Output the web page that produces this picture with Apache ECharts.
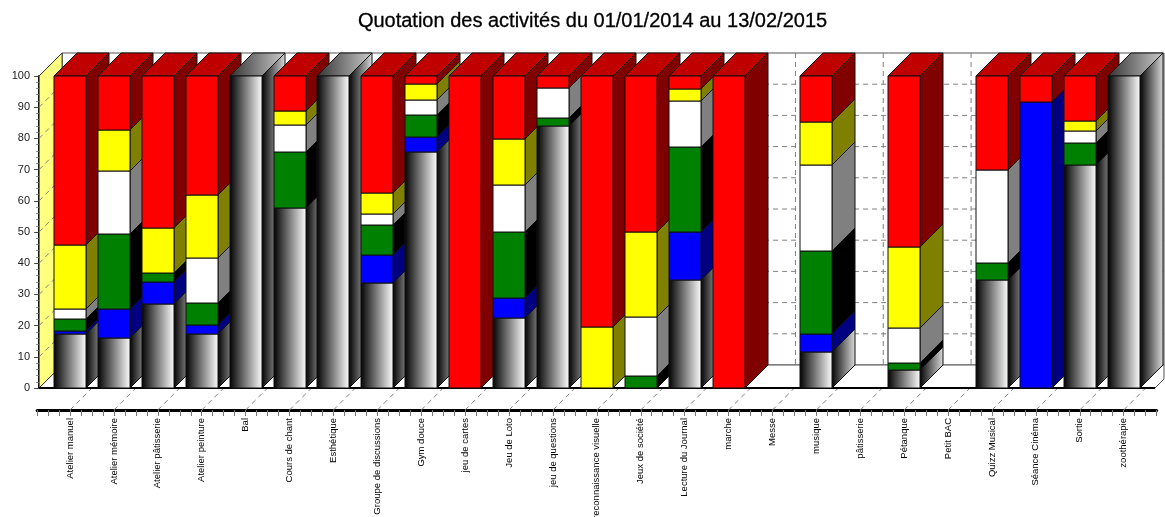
<!DOCTYPE html>
<html><head><meta charset="utf-8">
<style>html,body{margin:0;padding:0;background:#fff}#c{width:1165px;height:517px}</style>
<script src="https://cdn.jsdelivr.net/npm/echarts@6/dist/echarts.min.js"></script></head>
<body><div id="c"></div>
<script>
const titleText = 'Quotation des activités du 01/01/2014 au 13/02/2015';
const categories = ['Atelier manuel','Atelier mémoire','Atelier pâtisserie','Atelier peinture','Bal','Cours de chant','Esthétique','Groupe de discussions','Gym douce','jeu de cartes','Jeu de Loto','jeu de questions','reconnaissance visuelle','Jeux de société','Lecture du Journal','marche','Messe','musique','pâtisserie','Pétanque','Petit BAC','Quizz Musical','Séance Cinéma','Sortie','zoothérapie'];
const yTicks = [0,10,20,30,40,50,60,70,80,90,100];
// stack, bottom to top
const grisValues  = [17.3,16,26.9,17.3,100,57.7,100,33.7,75.6,0,22.4,84,0,0,34.6,0,0,11.5,0,5.8,0,34.6,0,71.5,100];
const bleuValues  = [1,9.3,7.1,2.9,0,0,0,8.9,4.8,0,6.4,0,0,0,15.4,0,0,5.8,0,0,0,0,91.7,0,0];
const vertValues  = [3.7,24.1,2.9,7,0,17.9,0,9.6,7.1,0,21.2,2.5,0,3.8,27.2,0,0,26.7,0,2.2,0,5.4,0,7,0];
const blancValues = [3.3,20.1,0,14.5,0,8.7,0,3.6,4.8,0,15,9.5,0,19,14.8,0,0,27.5,0,11.2,0,29.9,0,3.9,0];
const jauneValues = [20.5,13.2,14.4,20.2,0,4.5,0,6.7,5.1,0,14.8,0,19.6,27.2,3.8,0,0,13.8,0,26,0,0,0,3.2,0];
const rougeValues = [54.2,17.3,48.7,38.1,0,11.2,0,37.5,2.6,100,20.2,4,80.4,50,4.2,100,0,14.7,0,54.8,0,30.1,8.3,14.4,0];

const DX = 23, DY = 23;
const grad = (a, b) => ({type:'linear',x:0,y:0,x2:1,y2:0,colorStops:[{offset:0,color:a},{offset:1,color:b}]});
const styles = [
  {front:grad('#000','#fff'), side:grad('#000','#ddd'), top:grad('#333','#ccc')},
  {front:'#0000ff', side:'#000080', top:'#0000c0'},
  {front:'#008000', side:'#000000', top:'#006000'},
  {front:'#ffffff', side:'#808080', top:'#c0c0c0'},
  {front:'#ffff00', side:'#808000', top:'#c0c000'},
  {front:'#ff0000', side:'#800000', top:'#c00000'}
];
const stacks = [grisValues,bleuValues,vertValues,blancValues,jauneValues,rougeValues];
const names = ['Gris','Bleu','Vert','Blanc','Jaune','Rouge'];
const totals = categories.map((_, i) => stacks.reduce((s, a) => s + a[i], 0));

function poly(pts, fill, z2, stroke){
  return {type:'polygon', z2, silent:true, shape:{points:pts},
    style:{fill, stroke:stroke||'#111', lineWidth:1}};
}
function segmentItem(sIdx){
  return function(params, api){
    const i = api.value(0), v = api.value(1), base = api.value(2);
    if (!v) return null;
    const st = styles[sIdx];
    const hw = api.size([1,0])[0] * 0.365;
    const c = api.coord([i,0])[0];
    const x0 = Math.round(c - hw), x1 = Math.round(c + hw);
    const yb = Math.round(api.coord([i,base])[1]), yt = Math.round(api.coord([i,base+v])[1]);
    const z = 10 + i * 3;
    const ch = [
      poly([[x1,yb],[x1+DX,yb-DY],[x1+DX,yt-DY],[x1,yt]], st.side, z),
      poly([[x0,yb],[x1,yb],[x1,yt],[x0,yt]], st.front, z+2)
    ];
    if (base + v >= totals[i] - 0.01)
      ch.push(poly([[x0,yt],[x1,yt],[x1+DX,yt-DY],[x0+DX,yt-DY]], st.top, z+1));
    return {type:'group', children:ch};
  };
}
function wallItem(params, api){
  const cs = params.coordSys;
  const L = cs.x + 2, y0 = api.coord([0,0])[1], y100 = api.coord([0,100])[1];
  const R = 1164, F = 1155, ch = [];
  const line = (a,b,dash,col,w) => ({type:'line', z2:2, silent:true, shape:{x1:a[0],y1:a[1],x2:b[0],y2:b[1]},
    style:{stroke:col||'#808080', lineWidth:w||1, lineDash:dash?[5,4]:null}});
  ch.push({type:'polygon', z2:0, silent:true, shape:{points:[[L+DX,y100-DY],[R,y100-DY],[R,y0-DY],[L+DX,y0-DY]]}, style:{fill:'#fff',stroke:'#555',lineWidth:1}});
  ch.push({type:'polygon', z2:0, silent:true, shape:{points:[[L,y0],[L+DX,y0-DY],[R,y0-DY],[R,y0-(R-F)],[F,y0]]}, style:{fill:'#fff',stroke:'#555',lineWidth:1}});
  ch.push({type:'polygon', z2:1, silent:true, shape:{points:[[L,y100],[L+DX,y100-DY],[L+DX,y0-DY],[L,y0]]}, style:{fill:'#ffff80',stroke:'#333',lineWidth:1}});
  yTicks.forEach(t => {
    const y = api.coord([0,t])[1];
    if (t>0 && t<100) ch.push(line([L+DX,y-DY],[R,y-DY],true));
    if (t>0 && t<100) ch.push(line([L,y],[L+DX,y-DY],true));
  });
  categories.forEach((_,i) => {
    const x = api.coord([i,0])[0];
    if (x+DX < R) ch.push(line([x+DX,y100-DY],[x+DX,y0-DY],true));
    ch.push(line([x,y0+22],[x+DX,y0-1],true));
  });
  ch.push(line([L,y0],[F,y0],false,'#000',2));
  return {type:'group', children:ch};
}

const series = [{
  type:'custom', name:'Fond', silent:true, z:1, clip:false, renderItem:wallItem,
  encode:{x:0,y:1}, data:[[0,0]]
}];
stacks.forEach((arr, s) => {
  const data = arr.map((v, i) => {
    let base = 0;
    for (let k=0;k<s;k++) base += stacks[k][i];
    return [i, v, base];
  });
  series.push({type:'custom', name:names[s], z:2, clip:false, silent:true,
    renderItem:segmentItem(s), encode:{x:0,y:[1,2]}, data});
});

const chart = echarts.init(document.getElementById('c'), null, {renderer:'canvas'});
chart.setOption({
  animation:false,
  backgroundColor:'#fff',
  title:{text:titleText, left:587.5, textAlign:'center', top:6,
    textStyle:{fontFamily:'Liberation Sans', fontSize:20, fontWeight:'normal', color:'#000', textBorderColor:'#000', textBorderWidth:0.3}},
  grid:{left:37.1, top:76, width:1119.5, height:312, outerBoundsMode:'none'},
  xAxis:{type:'value', min:-0.75, max:24.75, interval:0.25, offset:22, position:'bottom',
    splitLine:{show:false},
    axisLine:{show:true, onZero:false, lineStyle:{color:'#000', width:3}},
    axisTick:{show:true, length:6, lineStyle:{color:'#777', width:1}},
    axisLabel:{rotate:90, margin:8, fontFamily:'Liberation Sans', fontSize:9.5, color:'#000', hideOverlap:false,
      showMinLabel:true, showMaxLabel:true,
      formatter:v => Number.isInteger(v) && categories[v] ? categories[v] : ''}
  },
  yAxis:{type:'value', min:0, max:100, interval:10, offset:-2,
    splitLine:{show:false},
    axisLine:{show:true, onZero:false, lineStyle:{color:'#000', width:2}},
    axisTick:{show:true, length:5, lineStyle:{color:'#444'}},
    minorTick:{show:true, splitNumber:5, length:3, lineStyle:{color:'#888'}},
    axisLabel:{margin:9, fontFamily:'Liberation Sans', fontSize:11, color:'#222'}
  },
  series
});
</script></body></html>
